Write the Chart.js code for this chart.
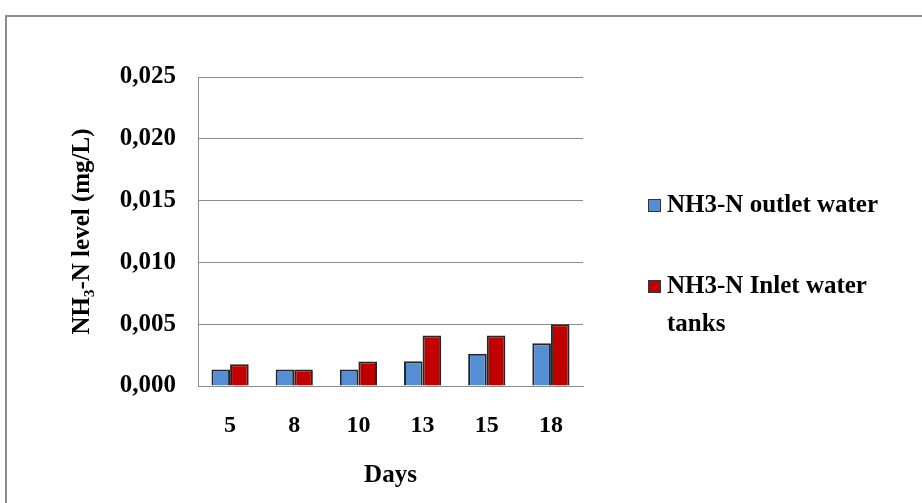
<!DOCTYPE html>
<html>
<head>
<meta charset="utf-8">
<script src="https://cdn.jsdelivr.net/npm/chart.js@4.4.0/dist/chart.umd.min.js"></script>
<style>
  html, body { margin: 0; padding: 0; background: #fff; overflow: hidden; }
</style>
</head>
<body>
<canvas id="myChart" width="922" height="503"></canvas>
<script>
// data
const days = ["5", "8", "10", "13", "15", "18"];
const outletWater = [0.00133, 0.00133, 0.00133, 0.002, 0.0026, 0.00345];
const inletWater = [0.00176, 0.00133, 0.00198, 0.00408, 0.00408, 0.005];
const seriesNames = ["NH3-N outlet water", ["NH3-N Inlet water", "tanks"]];

const serif = "'Liberation Serif', 'Times New Roman', serif";

// gray frame around the whole picture
const frame = {
  id: "frame",
  beforeDraw: (chart) => {
    const { ctx } = chart;
    ctx.save();
    ctx.strokeStyle = "#8c8c8c";
    ctx.lineWidth = 2;
    ctx.strokeRect(6, 16, 1000, 1000);
    ctx.restore();
  },
};

// legend on the right, with wrapped label
const sideLegend = {
  id: "sideLegend",
  afterDraw: (chart) => {
    const { ctx, data, chartArea: { right } } = chart;
    const baselines = [[212], [293, 331]];
    ctx.save();
    ctx.font = "bold 25px " + serif;
    ctx.textAlign = "left";
    ctx.textBaseline = "alphabetic";
    data.datasets.forEach((ds, i) => {
      const lines = Array.isArray(seriesNames[i]) ? seriesNames[i] : [seriesNames[i]];
      const y0 = baselines[i][0];
      ctx.fillStyle = ds.backgroundColor;
      ctx.fillRect(right + 65.5, y0 - 12.5, 12, 12);
      ctx.strokeStyle = "#333";
      ctx.lineWidth = 1;
      ctx.strokeRect(right + 65.5, y0 - 12.5, 12, 12);
      ctx.fillStyle = "#000";
      lines.forEach((t, k) => ctx.fillText(t, right + 84, baselines[i][k]));
    });
    ctx.restore();
  },
};

const config = {
  type: "bar",
  data: {
    labels: days,
    datasets: [
      {
        label: "NH3-N outlet water",
        data: outletWater,
        backgroundColor: "#558ed5",
        borderColor: "#262626",
        borderWidth: 2,
        categoryPercentage: 0.58,
        barPercentage: 1,
      },
      {
        label: "NH3-N Inlet water tanks",
        data: inletWater,
        backgroundColor: "#c00000",
        borderColor: "#262626",
        borderWidth: 2,
        categoryPercentage: 0.58,
        barPercentage: 1,
      },
    ],
  },
  options: {
    responsive: false,
    animation: false,
    layout: { padding: { left: 68, right: 339, top: 77, bottom: 0 } },
    plugins: {
      legend: { display: false },
      tooltip: { enabled: false },
    },
    scales: {
      y: {
        min: 0,
        max: 0.025,
        afterFit: (s) => { s.width = 130; },
        border: { color: "#8c8c8c", width: 1 },
        grid: { color: "#8c8c8c", drawTicks: false },
        ticks: {
          stepSize: 0.005,
          padding: 22,
          color: "#000",
          font: { family: serif, size: 25, weight: "bold" },
          callback: (v) => v.toFixed(3).replace(".", ","),
        },
        title: {
          display: true,
          text: "NH\u2083-N level (mg/L)",
          color: "#000",
          font: { family: serif, size: 25, weight: "bold" },
          padding: { top: 0, bottom: 0 },
        },
      },
      x: {
        afterFit: (s) => { s.height = 117; },
        border: { color: "#8c8c8c", width: 1 },
        grid: { display: false, drawTicks: false },
        ticks: {
          padding: 25,
          color: "#000",
          font: { family: serif, size: 24, weight: "bold" },
        },
        title: {
          display: true,
          text: "Days",
          color: "#000",
          font: { family: serif, size: 25, weight: "bold" },
          padding: { top: 0, bottom: 12 },
        },
      },
    },
  },
  plugins: [frame, sideLegend],
};

const myChart = new Chart(document.getElementById("myChart"), config);
</script>
</body>
</html>
